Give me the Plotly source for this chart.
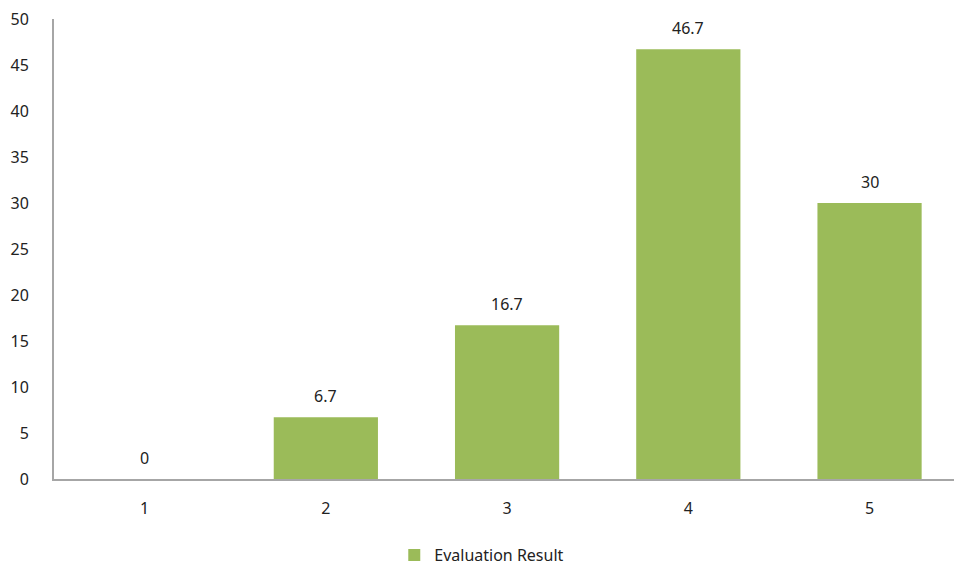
import plotly.graph_objects as go

categories = ["1", "2", "3", "4", "5"]
values = [0, 6.7, 16.7, 46.7, 30]
y_ticks = [0, 5, 10, 15, 20, 25, 30, 35, 40, 45, 50]
series_name = "Evaluation Result"

x_pos = [1, 2, 3, 4, 5]

fig = go.Figure()
fig.add_trace(go.Bar(
    x=x_pos,
    y=values,
    name=series_name,
    marker=dict(color="#9BBB59", line=dict(width=0)),
    width=0.575,
    showlegend=True,
))

# value labels above each bar
for xv, v in zip(x_pos, values):
    fig.add_annotation(
        x=xv, y=v, text=f"{v:g}", showarrow=False,
        yanchor="middle", yshift=21,
        font=dict(size=16, color="#222222"),
    )

fig.update_layout(
    width=954,
    height=567,
    margin=dict(l=54, r=0, t=19, b=88),
    paper_bgcolor="white",
    plot_bgcolor="white",
    font=dict(family="Noto Sans, Open Sans, sans-serif", size=16, color="#222222"),
    xaxis=dict(
        range=[0.5, 5.466],
        tickmode="array",
        tickvals=x_pos,
        ticktext=categories,
        showgrid=False,
        showline=True,
        linecolor="#A6A6A6",
        linewidth=2,
        ticks="",
        ticklabelstandoff=14,
        zeroline=False,
    ),
    yaxis=dict(
        range=[0, 50],
        tickmode="array",
        tickvals=y_ticks,
        showgrid=False,
        showline=True,
        linecolor="#A6A6A6",
        linewidth=2,
        ticks="",
        ticklabelstandoff=20,
        zeroline=False,
    ),
    showlegend=True,
    legend=dict(
        orientation="h",
        xref="container",
        yref="container",
        x=0.505,
        xanchor="center",
        y=0.021,
        yanchor="middle",
        font=dict(size=16),
        itemwidth=30,
    ),
)

fig.write_html("out.html")
